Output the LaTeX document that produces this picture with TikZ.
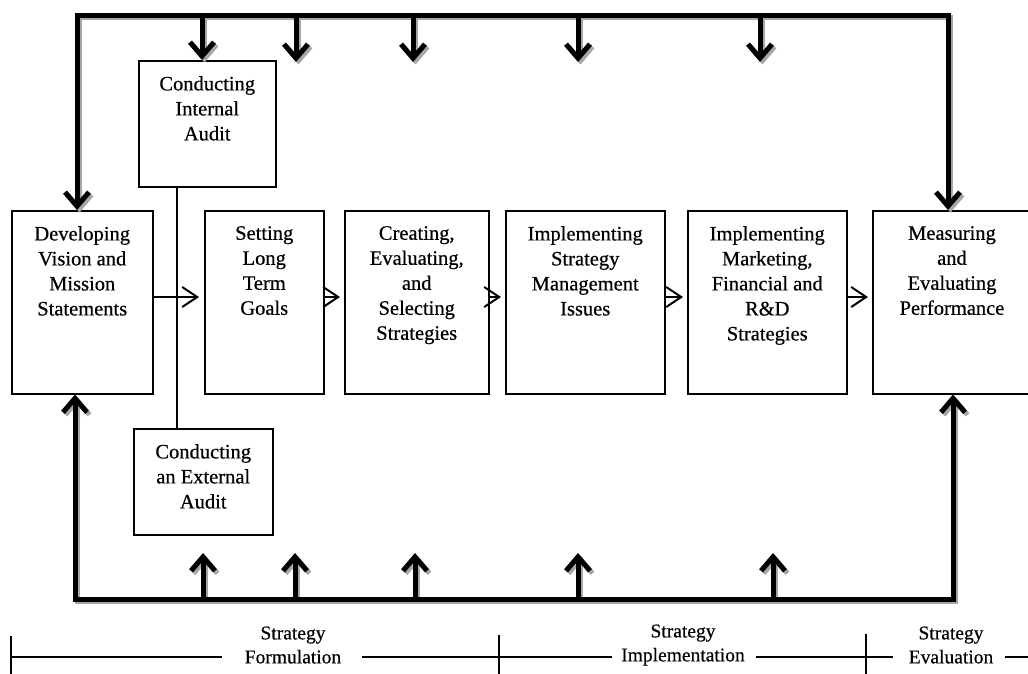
\documentclass[tikz,border=0pt]{standalone}
\usepackage{fontspec}
\setmainfont{Liberation Serif}
\usetikzlibrary{arrows.meta}
\tikzset{
  box/.style={draw, line width=1.5pt, rectangle, anchor=north west, inner sep=0pt},
  txt/.style={align=center, font=\fontsize{20.5}{25}\selectfont\addfontfeatures{FakeBold=0.5}, inner sep=0pt, anchor=north},
  tl/.style={align=center, font=\fontsize{19.5}{24}\selectfont\addfontfeatures{FakeBold=0.4}, inner sep=0pt},
  fb/.style={line width=5pt, line join=miter},
  barb/.tip={Straight Barb[length=14pt,width=24pt]},
  fbtip/.style={-barb},
  thin/.style={line width=1.5pt},
  small/.style={line width=2pt, -{Straight Barb[length=15pt,width=20pt]}},
}
\newcommand\feedbackpaths{%
  \draw[fb, barb-barb] (dev.north -| tlc) -- (tlc) -- (trc) -- (mea.north -| trc);
  \draw[fb, fbtip] (t1 |- tlc) -- (int.north -| t1);
  \foreach \c in {t2,t3,t4,t5} \draw[fb, fbtip] (\c |- tlc) -- (\c);
  \draw[fb, barb-barb] (dev.south -| blc) -- (blc) -- (brc) -- (mea.south -| brc);
  \foreach \c in {b1,b2,b3,b4,b5} \draw[fb, fbtip] (\c |- blc) -- (\c);
}
\begin{document}
\begin{tikzpicture}[x=1pt,y=-1pt]
\useasboundingbox (0,0) rectangle (1028,673);

% boxes
\node[box, minimum width=141pt, minimum height=183pt] (dev) at (11,210) {};
\node[box, minimum width=137pt, minimum height=126pt] (int) at (138,60) {};
\node[box, minimum width=139pt, minimum height=106pt] (ext) at (133,428) {};
\node[box, minimum width=119pt, minimum height=183pt] (set) at (204,210) {};
\node[box, minimum width=144pt, minimum height=183pt] (cre) at (344,210) {};
\node[box, minimum width=159pt, minimum height=183pt] (imp) at (505,210) {};
\node[box, minimum width=159pt, minimum height=183pt] (mkt) at (687,210) {};
\node[box, minimum width=160pt, minimum height=183pt] (mea) at (872,210) {};

% texts
\node[txt] (devt) at ([yshift=-16pt]dev.north) {Developing\\Vision and\\Mission\\Statements};
\node[txt] (intt) at ([yshift=-16pt]int.north) {Conducting\\Internal\\Audit};
\node[txt] (extt) at ([yshift=-16pt]ext.north) {Conducting\\an External\\Audit};
\node[txt] (sett) at ([yshift=-16pt]set.north) {Setting\\Long\\Term\\Goals};
\node[txt] (cret) at ([yshift=-16pt]cre.north) {Creating,\\Evaluating,\\and\\Selecting\\Strategies};
\node[txt] (impt) at ([yshift=-16pt]imp.north) {Implementing\\Strategy\\Management\\Issues};
\node[txt] (mktt) at ([yshift=-16pt]mkt.north) {Implementing\\Marketing,\\Financial and\\R\&D\\Strategies};
\node[txt] (meat) at ([yshift=-16pt]mea.north-|952,0) {Measuring\\and\\Evaluating\\Performance};

% audit connector
\coordinate (ax) at (177,0);
\draw[thin] (int.south -| ax) -- (ext.north -| ax);

% flow arrows
\coordinate (fy) at (0,297);
\draw[small, shorten >=5pt] (dev.east |- fy) -- (set.west |- fy);
\draw[small, shorten >=4pt] (set.east |- fy) -- (cre.west |- fy);
\draw[small, shorten >=4pt] (cre.east |- fy) -- (imp.west |- fy);
\draw[small, shorten >=4pt] (imp.east |- fy) -- (mkt.west |- fy);
\draw[small, shorten >=4pt] (mkt.east |- fy) -- (mea.west |- fy);

% feedback loop coordinates
\coordinate (tlc) at (77,15);
\coordinate (trc) at (948,15);
\coordinate (t1) at (202,0);
\coordinate (t2) at (296,62);
\coordinate (t3) at (413,62);
\coordinate (t4) at (578,62);
\coordinate (t5) at (760,62);
\coordinate (blc) at (75,599);
\coordinate (brc) at (953,599);
\coordinate (b1) at (203,553);
\coordinate (b2) at (295,553);
\coordinate (b3) at (415,553);
\coordinate (b4) at (578,553);
\coordinate (b5) at (773,553);

% shadows, then lines
\begin{scope}[transform canvas={shift={(2.5pt,-2.5pt)}}, color=black!35]
  \feedbackpaths
\end{scope}
\feedbackpaths

% timeline
\node[tl] (sf) at (293,645) {Strategy\\Formulation};
\node[tl] (si) at (683,645) {Strategy\\Implementation};
\node[tl] (se) at (951,645) {Strategy\\Evaluation};
\coordinate (k1) at (11,657);
\coordinate (k2) at (499,657);
\coordinate (k3) at (866,657);
\coordinate (kend) at (1030,657);
\draw[thin] (k1 |- 0,636) -- (k1 |- 0,675);
\draw[thin] (k2 |- 0,635) -- (k2 |- 0,675);
\draw[thin] (k3 |- 0,634) -- (k3 |- 0,675);
\draw[thin] (k1) -- (222,657);
\draw[thin] (362,657) -- (k2) -- (612,657);
\draw[thin] (756,657) -- (k3) -- (893,657);
\draw[thin] (1005,657) -- (kend);
\end{tikzpicture}
\end{document}
